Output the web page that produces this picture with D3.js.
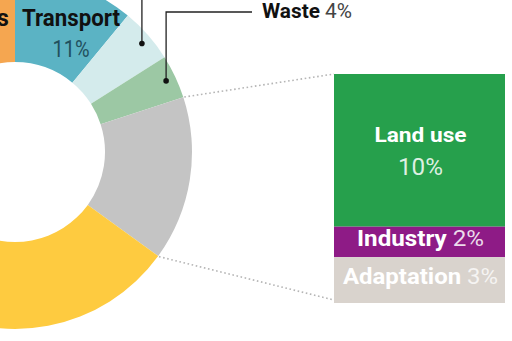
<!DOCTYPE html>
<html>
<head>
<meta charset="utf-8">
<script src="https://cdn.jsdelivr.net/npm/d3@7"></script>
<style>
    body { margin: 0; background: #fff; }
    svg { display: block; }
    text { font-family: Roboto, "Liberation Sans", sans-serif; }
    .bold { font-weight: 700; }
</style>
</head>
<body>
<svg id="chart" width="512" height="341"></svg>
<script>
"use strict";

// ring segments, clockwise from 12 o'clock
var sectors = ["Transport", "Other", "Waste", "Split", "Energy", "Buildings"];
var sectorValues = [11, 5, 4, 15, 48, 17];
var sectorColors = ["#5bb3c4", "#d4ebec", "#9cc8a4", "#c4c4c4", "#fecb40", "#f5a650"];

// breakdown of the grey segment
var parts = ["Land use", "Industry", "Adaptation"];
var partValues = [10, 2, 3];
var partColors = ["#26a04c", "#8e1b86", "#d9d3cd"];

var svg = d3.select("#chart");
var cx = 15, cy = 152;
var rInner = 90, rOuter = 177;

var pie = d3.pie().sort(null).value(function (d) { return d; }).startAngle(0).endAngle(2 * Math.PI);
var arcs = pie(sectorValues);
var arc = d3.arc().innerRadius(rInner).outerRadius(rOuter);

var ring = svg.append("g").attr("transform", "translate(" + cx + "," + cy + ")");
ring.selectAll("path")
    .data(arcs)
    .enter().append("path")
    .attr("d", arc)
    .attr("fill", function (d, i) { return sectorColors[i]; });

function polar(r, a) {
    return [cx + r * Math.sin(a), cy - r * Math.cos(a)];
}

// stacked bar
var barX0 = 334, barX1 = 505;
var y = d3.scaleLinear().domain([0, d3.sum(partValues)]).range([74, 303]);
var stack = [];
var acc = 0;
for (var i = 0; i < partValues.length; i++) {
    stack.push({ name: parts[i], v: partValues[i], y0: acc, y1: acc + partValues[i], color: partColors[i] });
    acc += partValues[i];
}
var barG = svg.append("g");
barG.selectAll("rect")
    .data(stack)
    .enter().append("rect")
    .attr("x", barX0)
    .attr("width", barX1 - barX0)
    .attr("y", function (d) { return y(d.y0); })
    .attr("height", function (d) { return y(d.y1) - y(d.y0); })
    .attr("fill", function (d) { return d.color; });

// dotted connectors from the grey segment to the bar
var split = arcs[3];
var pTop = polar(rOuter + 1, split.startAngle);
var pBot = polar(rOuter + 1, split.endAngle);
svg.append("line")
    .attr("x1", pTop[0]).attr("y1", pTop[1])
    .attr("x2", barX0).attr("y2", y(0))
    .attr("stroke", "#b5b5b5").attr("stroke-width", 1.6).attr("stroke-dasharray", "1.6,2.6");
svg.append("line")
    .attr("x1", pBot[0]).attr("y1", pBot[1])
    .attr("x2", barX0).attr("y2", y(d3.sum(partValues)) - 3)
    .attr("stroke", "#b5b5b5").attr("stroke-width", 1.6).attr("stroke-dasharray", "1.6,2.6");

// leader lines
var dotR = 167;
var other = arcs[1], waste = arcs[2];
var pOther = polar(dotR, (other.startAngle + other.endAngle) / 2 + 0.015);
var pWaste = polar(dotR, (waste.startAngle + waste.endAngle) / 2);
svg.append("path")
    .attr("d", "M" + pOther[0] + "," + pOther[1] + "V-5")
    .attr("fill", "none").attr("stroke", "#222").attr("stroke-width", 1.3);
svg.append("path")
    .attr("d", "M" + pWaste[0] + "," + pWaste[1] + "V12H252")
    .attr("fill", "none").attr("stroke", "#222").attr("stroke-width", 1.3);
svg.selectAll("circle.dot")
    .data([pOther, pWaste])
    .enter().append("circle")
    .attr("class", "dot")
    .attr("cx", function (d) { return d[0]; })
    .attr("cy", function (d) { return d[1]; })
    .attr("r", 2.8)
    .attr("fill", "#111");

// helper: text fitted to the width measured on the reference
function label(x, yy, anchor, size, width, pieces) {
    var t = svg.append("text")
        .attr("x", x).attr("y", yy)
        .attr("text-anchor", anchor)
        .attr("font-size", size)
        .attr("textLength", width)
        .attr("lengthAdjust", "spacingAndGlyphs");
    pieces.forEach(function (p) {
        var s = t.append("tspan").text(p.text).attr("fill", p.fill);
        if (p.bold) s.attr("font-weight", 700);
        if (p.op) s.attr("fill-opacity", p.op);
    });
    return t;
}

// ring labels (the left one is cut by the frame, as in the source)
svg.append("text").attr("class", "bold")
    .attr("x", -3).attr("y", 26).attr("font-size", 23).attr("fill", "#111")
    .text("s");
label(71, 26, "middle", 23, 98, [{ text: sectors[0], fill: "#111", bold: true }]);
label(71, 57, "middle", 23, 37, [{ text: sectorValues[0] + "%", fill: "#22505e" }]);
label(262, 18, "start", 21, 90, [
    { text: sectors[2], fill: "#111", bold: true },
    { text: " " + sectorValues[2] + "%", fill: "#444" }
]);

// bar labels
var mid = (barX0 + barX1) / 2 + 1;
label(mid, 142, "middle", 21, 92, [{ text: parts[0], fill: "#fff", bold: true }]);
label(mid, 175, "middle", 23, 45, [{ text: partValues[0] + "%", fill: "#fff", op: 0.85 }]);
label(mid, 246, "middle", 22, 127, [
    { text: parts[1], fill: "#fff", bold: true },
    { text: " " + partValues[1] + "%", fill: "#fff", op: 0.85 }
]);
label(mid, 284, "middle", 22, 155, [
    { text: parts[2], fill: "#fff", bold: true },
    { text: " " + partValues[2] + "%", fill: "#fff", op: 0.75 }
]);
</script>
</body>
</html>
